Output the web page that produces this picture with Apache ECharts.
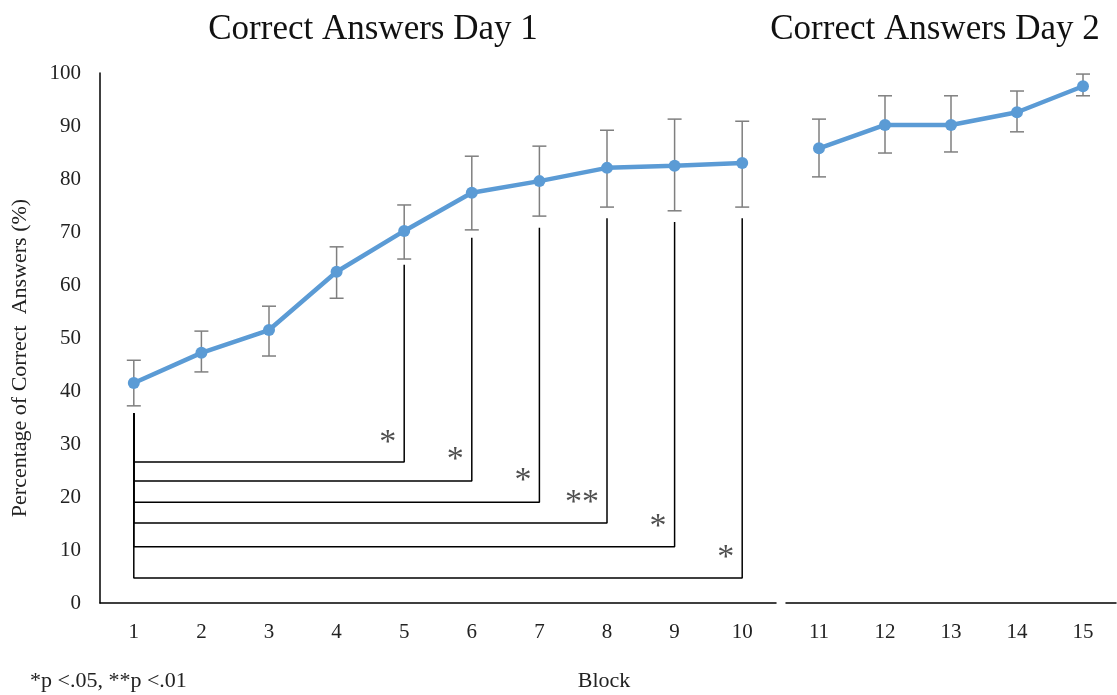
<!DOCTYPE html>
<html>
<head>
<meta charset="utf-8">
<script src="https://cdn.jsdelivr.net/npm/echarts@6/dist/echarts.min.js"></script>
<style>
  html, body { margin: 0; padding: 0; background: #fff; }
  #main { width: 1117px; height: 695px; }
</style>
</head>
<body>
<div id="main"></div>
<script>
// blocks and mean % correct
var day1Blocks = ['1', '2', '3', '4', '5', '6', '7', '8', '9', '10'];
var day2Blocks = ['11', '12', '13', '14', '15'];
var day1Mean = [41.5, 47.2, 51.5, 62.5, 70.2, 77.4, 79.6, 82.1, 82.5, 83.0];
var day1High = [45.8, 51.3, 56.0, 67.2, 75.1, 84.3, 86.2, 89.2, 91.3, 90.9];
var day1Low  = [37.2, 43.6, 46.6, 57.5, 64.9, 70.4, 73.0, 74.7, 74.0, 74.7];
var day2Mean = [85.8, 90.2, 90.2, 92.6, 97.5];
var day2High = [91.3, 95.7, 95.7, 96.6, 99.8];
var day2Low  = [80.4, 84.9, 85.1, 88.9, 95.7];

// significance brackets: block 1 against blocks 5..10
var bracketTo    = [4, 5, 6, 7, 8, 9];          // category index
var bracketLevel = [26.6, 23.0, 19.0, 15.1, 10.6, 4.7];
var bracketTop   = [63.8, 68.9, 70.8, 72.6, 71.9, 72.6];
var bracketStart = 35.8;
var starText     = ['*', '*', '*', '**', '*', '*'];
var starY        = [30.1, 26.9, 23.0, 18.8, 14.3, 8.4];

var yTicks = { min: 0, max: 100, interval: 10 };

var blue = '#5B9BD5';
var serif = '"Liberation Serif", "Times New Roman", serif';

function errorBars(mean, high, low) {
    return mean.map(function (m, i) { return [i, low[i], high[i]]; });
}

function renderErr(params, api) {
    var x = api.value(0);
    var lo = api.coord([x, api.value(1)]);
    var hi = api.coord([x, api.value(2)]);
    var w = 7;
    var st = { stroke: '#7f7f7f', lineWidth: 1.5 };
    return {
        type: 'group',
        children: [
            { type: 'line', shape: { x1: lo[0], y1: lo[1], x2: hi[0], y2: hi[1] }, style: st },
            { type: 'line', shape: { x1: lo[0] - w, y1: lo[1], x2: lo[0] + w, y2: lo[1] }, style: st },
            { type: 'line', shape: { x1: hi[0] - w, y1: hi[1], x2: hi[0] + w, y2: hi[1] }, style: st }
        ]
    };
}

var series = [
    {
        type: 'custom', xAxisIndex: 0, yAxisIndex: 0, z: 1,
        renderItem: renderErr, data: errorBars(day1Mean, day1High, day1Low)
    },
    {
        type: 'custom', xAxisIndex: 1, yAxisIndex: 1, z: 1,
        renderItem: renderErr, data: errorBars(day2Mean, day2High, day2Low)
    },
    {
        type: 'line', xAxisIndex: 0, yAxisIndex: 0, z: 3,
        data: day1Mean, symbol: 'circle', symbolSize: 12,
        itemStyle: { color: blue }, lineStyle: { color: blue, width: 4.5 }
    },
    {
        type: 'line', xAxisIndex: 1, yAxisIndex: 1, z: 3,
        data: day2Mean, symbol: 'circle', symbolSize: 12,
        itemStyle: { color: blue }, lineStyle: { color: blue, width: 4.5 }
    }
];

bracketTo.forEach(function (idx, i) {
    series.push({
        type: 'line', xAxisIndex: 0, yAxisIndex: 0, z: 2,
        symbol: 'none', silent: true,
        lineStyle: { color: '#000', width: 1.5 },
        data: [[0, bracketStart], [0, bracketLevel[i]], [idx, bracketLevel[i]], [idx, bracketTop[i]]]
    });
});

series.push({
    type: 'scatter', xAxisIndex: 0, yAxisIndex: 0, z: 4,
    symbolSize: 0,
    data: bracketTo.map(function (idx, i) { return [idx, starY[i], starText[i]]; }),
    label: {
        show: true, position: 'left', distance: 8,
        fontFamily: serif, fontSize: 34, color: '#222',
        formatter: function (p) { return p.data[2]; }
    }
});

var chart = echarts.init(document.getElementById('main'));

var option = {
    animation: false,
    title: [
        { text: 'Correct Answers Day 1', left: 368, top: 7, textAlign: 'center',
          textStyle: { fontFamily: serif, fontSize: 35, fontWeight: 'normal', color: '#111' } },
        { text: 'Correct Answers Day 2', left: 930, top: 7, textAlign: 'center',
          textStyle: { fontFamily: serif, fontSize: 35, fontWeight: 'normal', color: '#111' } }
    ],
    grid: [
        { left: 100, top: 73, width: 676, height: 530 },
        { left: 786, top: 73, width: 330, height: 530 }
    ],
    xAxis: [
        {
            type: 'category', gridIndex: 0, data: day1Blocks, boundaryGap: true,
            axisLine: { lineStyle: { color: '#000', width: 1.5 } },
            axisTick: { show: false },
            axisLabel: { fontFamily: serif, fontSize: 21, color: '#222', margin: 19 }
        },
        {
            type: 'category', gridIndex: 1, data: day2Blocks, boundaryGap: true,
            axisLine: { lineStyle: { color: '#000', width: 1.5 } },
            axisTick: { show: false },
            axisLabel: { fontFamily: serif, fontSize: 21, color: '#222', margin: 19 }
        }
    ],
    yAxis: [
        {
            type: 'value', gridIndex: 0, min: yTicks.min, max: yTicks.max, interval: yTicks.interval,
            axisLine: { show: true, lineStyle: { color: '#000', width: 1.5 } },
            axisTick: { show: false },
            splitLine: { show: false },
            axisLabel: { fontFamily: serif, fontSize: 21, color: '#222', margin: 19 }
        },
        {
            type: 'value', gridIndex: 1, min: yTicks.min, max: yTicks.max, interval: yTicks.interval,
            axisLine: { show: false }, axisTick: { show: false },
            splitLine: { show: false }, axisLabel: { show: false }
        }
    ],
    graphic: [
        { type: 'text', x: 20, y: 358, rotation: Math.PI / 2,
          style: { text: 'Percentage of Correct  Answers (%)', fontFamily: serif, fontSize: 22,
                   fill: '#222', align: 'center', verticalAlign: 'middle' } },
        { type: 'text', x: 604, y: 681,
          style: { text: 'Block', fontFamily: serif, fontSize: 22, fill: '#222',
                   align: 'center', verticalAlign: 'middle' } },
        { type: 'text', x: 30, y: 681,
          style: { text: '*p <.05, **p <.01', fontFamily: serif, fontSize: 22, fill: '#222',
                   align: 'left', verticalAlign: 'middle' } }
    ],
    series: series
};

chart.setOption(option);
window.addEventListener('resize', function () {
    chart.resize();
});
</script>
</body>
</html>
